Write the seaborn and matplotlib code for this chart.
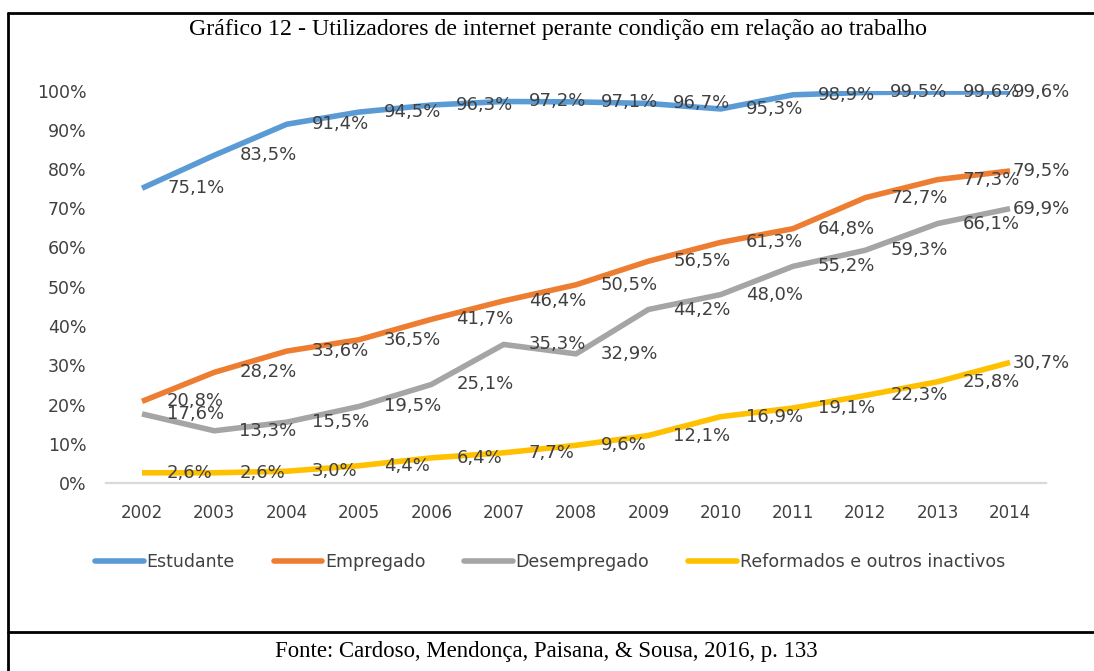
import matplotlib
matplotlib.use("Agg")
import matplotlib.pyplot as plt
from matplotlib.lines import Line2D
import seaborn as sns
import pandas as pd

years = ["2002", "2003", "2004", "2005", "2006", "2007", "2008",
         "2009", "2010", "2011", "2012", "2013", "2014"]
estudante = [75.1, 83.5, 91.4, 94.5, 96.3, 97.2, 97.1, 96.7, 95.3, 98.9, 99.5, 99.6, 99.6]
empregado = [20.8, 28.2, 33.6, 36.5, 41.7, 46.4, 50.5, 56.5, 61.3, 64.8, 72.7, 77.3, 79.5]
desempregado = [17.6, 13.3, 15.5, 19.5, 25.1, 35.3, 32.9, 44.2, 48.0, 55.2, 59.3, 66.1, 69.9]
reformados = [2.6, 2.6, 3.0, 4.4, 6.4, 7.7, 9.6, 12.1, 16.9, 19.1, 22.3, 25.8, 30.7]
series_names = ["Estudante", "Empregado", "Desempregado", "Reformados e outros inactivos"]
series_values = [estudante, empregado, desempregado, reformados]
colors = ["#5B9BD5", "#ED7D31", "#A5A5A5", "#FFC000"]
yticks = [0, 10, 20, 30, 40, 50, 60, 70, 80, 90, 100]
title = "Gráfico 12 - Utilizadores de internet perante condição em relação ao trabalho"
source = "Fonte: Cardoso, Mendonça, Paisana, & Sousa, 2016, p. 133"

rows = []
for name, vals in zip(series_names, series_values):
    for i, v in enumerate(vals):
        rows.append({"idx": i, "value": v, "serie": name})
df = pd.DataFrame(rows)

sns.set_style("white")
plt.rcParams["font.family"] = ["DejaVu Sans"]

W, H = 1094, 671
fig = plt.figure(figsize=(W / 100, H / 100), dpi=100)
ax = fig.add_axes([105.85 / W, (H - 483) / H, 940.3 / W, 392.5 / H])

sns.lineplot(data=df, x="idx", y="value", hue="serie", palette=colors,
             hue_order=series_names, linewidth=4.0, ax=ax, legend=False,
             sort=False)
for line in ax.lines:
    line.set_solid_capstyle("butt")
    line.set_solid_joinstyle("round")

txt_color = "#404040"
n = len(years)
for vals in series_values:
    for i, v in enumerate(vals):
        off = 2 if i == n - 1 else 18
        ax.annotate(f"{v:.1f}%".replace(".", ","), xy=(i, v),
                    xytext=(off, 0), textcoords="offset points",
                    ha="left", va="center", fontsize=13, color=txt_color,
                    annotation_clip=False)

ax.set_xlim(-0.5, n - 0.5)
ax.set_ylim(0, 100)
ax.set_xticks(range(n))
ax.set_xticklabels(years)
ax.set_yticks(yticks)
ax.set_yticklabels([f"{t}%" for t in yticks])
ax.tick_params(axis="x", length=0, pad=15, labelsize=12, labelcolor=txt_color)
ax.tick_params(axis="y", length=0, pad=14, labelsize=12.5, labelcolor=txt_color)
ax.set_xlabel("")
ax.set_ylabel("")
for s in ["top", "left", "right"]:
    ax.spines[s].set_visible(False)
ax.spines["bottom"].set_color("#D9D9D9")
ax.spines["bottom"].set_linewidth(1.6)
ax.grid(False)

handles = [Line2D([0], [0], color=c, lw=4.0) for c in colors]
leg = fig.legend(handles, series_names, loc="center",
                 bbox_to_anchor=(550 / W, (H - 562) / H), ncol=4, frameon=False,
                 fontsize=12.5, handlelength=2.8, handletextpad=0.15,
                 columnspacing=2.25, labelcolor=txt_color)

fig.text(558 / W, (H - 30) / H, title, ha="center", va="center",
         fontsize=17.2, family="Liberation Serif", color="black")
fig.text(546 / W, (H - 652) / H, source, ha="center", va="center",
         fontsize=16.4, family="Liberation Serif", color="black")

def fline(x0, y0, x1, y1):
    fig.add_artist(Line2D([x0 / W, x1 / W], [(H - y0) / H, (H - y1) / H],
                          transform=fig.transFigure, color="black", lw=2))

fline(8, 13, W + 5, 13)
fline(8, 13, 8, H + 5)
fline(8, 632, W + 5, 632)

fig.savefig("out.png", dpi=100)
